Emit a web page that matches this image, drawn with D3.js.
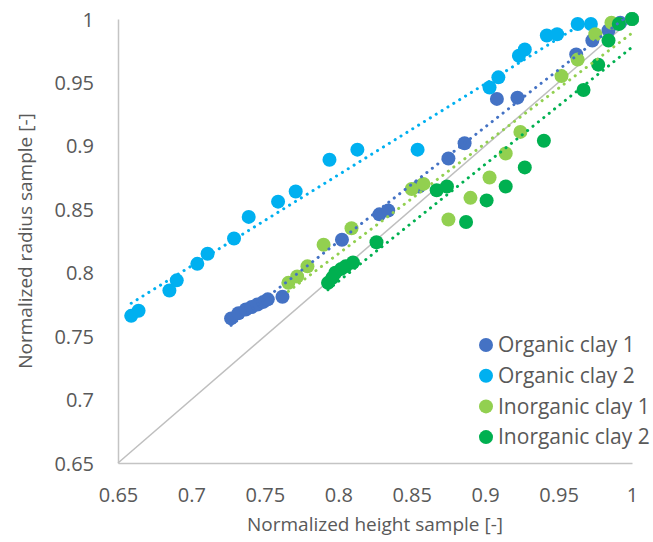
<!DOCTYPE html>
<html>
<head>
<meta charset="utf-8">
<script src="https://cdn.jsdelivr.net/npm/d3@7"></script>
<style>
  body { margin: 0; background: #fff; }
  text { font-family: "Open Sans", sans-serif; fill: #595959; }
</style>
</head>
<body>
<div id="chart"></div>
<script>
// DATA
const seriesNames = ["Organic clay 1", "Organic clay 2", "Inorganic clay 1", "Inorganic clay 2"];
const seriesColors = ["#4472C4", "#00B0F0", "#92D050", "#00B050"];

const organic1X = [0.727, 0.732, 0.737, 0.741, 0.745, 0.749, 0.752, 0.762, 0.8025, 0.828, 0.834, 0.855, 0.875, 0.886, 0.908, 0.922, 0.962, 0.973, 0.984, 0.992, 1];
const organic1Y = [0.764, 0.768, 0.771, 0.773, 0.775, 0.777, 0.779, 0.781, 0.826, 0.846, 0.849, 0.868, 0.890, 0.902, 0.937, 0.938, 0.972, 0.983, 0.991, 0.997, 1];

const organic2X = [0.659, 0.664, 0.685, 0.690, 0.704, 0.711, 0.729, 0.739, 0.759, 0.771, 0.794, 0.813, 0.854, 0.903, 0.909, 0.923, 0.927, 0.942, 0.949, 0.963, 0.972, 1];
const organic2Y = [0.766, 0.770, 0.786, 0.794, 0.807, 0.815, 0.827, 0.844, 0.856, 0.864, 0.889, 0.897, 0.897, 0.946, 0.954, 0.971, 0.976, 0.987, 0.988, 0.996, 0.996, 1];

const inorganic1X = [0.766, 0.772, 0.779, 0.790, 0.809, 0.850, 0.858, 0.875, 0.890, 0.903, 0.914, 0.924, 0.952, 0.963, 0.975, 0.986, 1];
const inorganic1Y = [0.792, 0.797, 0.805, 0.822, 0.835, 0.866, 0.870, 0.842, 0.859, 0.875, 0.894, 0.911, 0.955, 0.968, 0.988, 0.997, 1];

const inorganic2X = [0.793, 0.796, 0.798, 0.802, 0.805, 0.810, 0.826, 0.867, 0.874, 0.887, 0.901, 0.914, 0.927, 0.940, 0.967, 0.977, 0.984, 0.991, 1];
const inorganic2Y = [0.792, 0.796, 0.800, 0.803, 0.805, 0.808, 0.824, 0.865, 0.868, 0.840, 0.857, 0.868, 0.883, 0.904, 0.944, 0.964, 0.983, 0.996, 1];

const seriesX = [organic1X, organic2X, inorganic1X, inorganic2X];
const seriesY = [organic1Y, organic2Y, inorganic1Y, inorganic2Y];

const tickValues = [0.65, 0.7, 0.75, 0.8, 0.85, 0.9, 0.95, 1];
const tickLabels = ["0.65", "0.7", "0.75", "0.8", "0.85", "0.9", "0.95", "1"];

// LAYOUT
const width = 653;
const height = 542;
const margin = { top: 19, right: 21, bottom: 79, left: 118 };
const graphWidth = width - margin.left - margin.right;
const graphHeight = height - margin.top - margin.bottom;

const svg = d3.select('#chart')
  .append('svg')
  .attr('width', width)
  .attr('height', height);

const g = svg.append('g')
  .attr('transform', 'translate(' + margin.left + ',' + margin.top + ')');

const xScale = d3.scaleLinear().domain([0.65, 1]).range([0, graphWidth]);
const yScale = d3.scaleLinear().domain([0.65, 1]).range([graphHeight, 0]);

g.append('clipPath')
  .attr('id', 'plot-clip')
  .append('rect')
  .attr('width', graphWidth)
  .attr('height', graphHeight);

// X-AXIS
const xAxis = g.append('g')
  .attr('transform', 'translate(0,' + graphHeight + ')')
  .call(d3.axisBottom(xScale).tickValues(tickValues).tickSize(0)
    .tickFormat((d, i) => tickLabels[i]));
xAxis.select('.domain').attr('stroke', '#c4c4c4').attr('stroke-width', 1.5);
xAxis.selectAll('text')
  .attr('y', 32).attr('dy', '0.35em')
  .style('font-size', '20px');

// Y-AXIS
const yAxis = g.append('g')
  .call(d3.axisLeft(yScale).tickValues(tickValues).tickSize(0)
    .tickFormat((d, i) => tickLabels[i]));
yAxis.select('.domain').attr('stroke', '#c4c4c4').attr('stroke-width', 1.5);
yAxis.selectAll('text')
  .attr('x', -24).attr('dy', '0.35em')
  .style('font-size', '20px');

svg.selectAll('.tick text').attr('fill', '#595959');

// AXIS TITLES
svg.append('text')
  .attr('x', margin.left + graphWidth / 2)
  .attr('y', 531)
  .attr('text-anchor', 'middle')
  .style('font-size', '19px')
  .text('Normalized height sample [-]');

svg.append('text')
  .attr('transform', 'translate(32,' + (margin.top + graphHeight / 2) + ') rotate(-90)')
  .attr('text-anchor', 'middle')
  .style('font-size', '19px')
  .text('Normalized radius sample [-]');

// 1:1 LINE
g.append('line')
  .attr('x1', xScale(0.65)).attr('y1', yScale(0.65))
  .attr('x2', xScale(1)).attr('y2', yScale(1))
  .attr('stroke', '#bfbfbf')
  .attr('stroke-width', 1.5);

// MARKERS
seriesNames.forEach((name, s) => {
  const pts = seriesX[s].map((x, i) => ({ x: x, y: seriesY[s][i] }));
  g.append('g')
    .selectAll('circle')
    .data(pts)
    .enter()
    .append('circle')
    .attr('cx', d => xScale(d.x))
    .attr('cy', d => yScale(d.y))
    .attr('r', 7)
    .attr('fill', seriesColors[s]);
});

// LINEAR TRENDLINES (least squares, like the spreadsheet)
const fitLine = (xs, ys) => {
  const mx = d3.mean(xs);
  const my = d3.mean(ys);
  const sxy = d3.sum(xs, (x, i) => (x - mx) * (ys[i] - my));
  const sxx = d3.sum(xs, x => (x - mx) * (x - mx));
  const slope = sxy / sxx;
  return x => my + slope * (x - mx);
};

seriesNames.forEach((name, s) => {
  const f = fitLine(seriesX[s], seriesY[s]);
  const ends = d3.extent(seriesX[s]);
  g.append('path')
    .datum(ends)
    .attr('clip-path', 'url(#plot-clip)')
    .attr('fill', 'none')
    .attr('stroke', seriesColors[s])
    .attr('stroke-width', 3)
    .attr('stroke-linecap', 'round')
    .attr('stroke-dasharray', '0.1 6.8')
    .attr('d', d3.line()
      .x(d => xScale(d))
      .y(d => yScale(f(d))));
});

// LEGEND
const legend = svg.append('g').attr('transform', 'translate(486,345)');
seriesNames.forEach((name, s) => {
  const row = legend.append('g').attr('transform', 'translate(0,' + (s * 30.7) + ')');
  row.append('circle').attr('r', 7).attr('fill', seriesColors[s]);
  row.append('text')
    .attr('x', 12)
    .attr('dy', '0.35em')
    .style('font-size', '21px')
    .text(name);
});
</script>
</body>
</html>
